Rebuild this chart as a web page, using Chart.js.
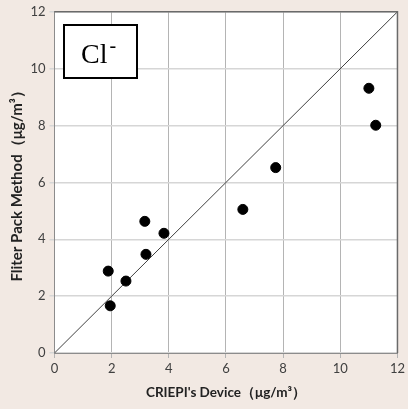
<!DOCTYPE html>
<html><head><meta charset="utf-8">
<script src="https://cdn.jsdelivr.net/npm/chart.js@4"></script>
<style>html,body{margin:0;padding:0;background:#f2e9e3;}#c{display:block;}</style>
</head><body>
<div style="width:408px;height:409px;"><canvas id="c" width="408" height="409"></canvas></div>
<script>
const criepiDevice = [11.0, 11.24, 7.74, 6.59, 3.16, 3.83, 3.20, 1.88, 2.50, 1.95];
const filterPack   = [9.31, 8.01, 6.52, 5.05, 4.63, 4.21, 3.47, 2.88, 2.53, 1.66];
const lineX = [0, 12];
const lineY = [0, 12];
const ionLabel = "Cl";
const ionCharge = "-";
const xTitle = "CRIEPI's Device（μg/m³）";
const yTitle = "Fliter Pack Method（μg/m³）";

const pts = criepiDevice.map((x,i)=>({x, y: filterPack[i]}));
const line = lineX.map((x,i)=>({x, y: lineY[i]}));

const deco = {
  id:'deco',
  beforeDraw(chart){
    const {ctx, chartArea:a} = chart;
    ctx.save();
    ctx.fillStyle = '#f2e9e3';
    ctx.fillRect(0,0,chart.width,chart.height);
    ctx.fillStyle = '#ffffff';
    ctx.fillRect(a.left,a.top,a.right-a.left,a.bottom-a.top);
    ctx.restore();
  },
  afterDraw(chart){
    const {ctx, chartArea:a} = chart;
    ctx.save();
    ctx.strokeStyle = '#6a6a6a';
    ctx.lineWidth = 1.5;
    ctx.beginPath();
    ctx.moveTo(a.left, a.top); ctx.lineTo(a.right, a.top); ctx.lineTo(a.right, a.bottom);
    ctx.stroke();
    ctx.fillStyle = '#ffffff';
    ctx.fillRect(63.5, 24.5, 74, 54);
    ctx.strokeStyle = '#000';
    ctx.lineWidth = 2;
    ctx.strokeRect(64, 25, 73, 53);
    ctx.fillStyle = '#000';
    ctx.font = '28px "Liberation Serif", "DejaVu Serif", serif';
    ctx.textBaseline = 'alphabetic';
    ctx.fillText(ionLabel, 81, 63);
    const w = ctx.measureText(ionLabel).width;
    ctx.font = '20px "Liberation Serif", serif';
    ctx.fillText(ionCharge, 81 + w + 2, 52);
    ctx.restore();
  }
};

const fam = 'Lato, "Open Sans", sans-serif';
new Chart(document.getElementById('c'), {
  type: 'scatter',
  data: { datasets: [
    { data: pts, pointRadius: 5, pointHoverRadius: 5, backgroundColor: '#000', borderColor: '#000', order: 0 },
    { type: 'line', data: line, borderColor: '#404040', borderWidth: 1, pointRadius: 0, fill: false, order: 1 }
  ]},
  options: {
    responsive: false, animation: false, devicePixelRatio: 1,
    layout: { padding: { top: 10, right: 10, left: 0, bottom: 0 } },
    plugins: { legend: { display: false }, tooltip: { enabled: false } },
    scales: {
      x: {
        type: 'linear', min: 0, max: 12,
        ticks: { stepSize: 2, color: '#404040', font: { family: fam, size: 13 }, padding: 3 },
        grid: { color: '#b4b4b4', lineWidth: 1, tickLength: 5, drawTicks: true },
        border: { color: '#8c8c8c', width: 1 },
        title: { display: true, text: xTitle, color: '#222', font: { family: fam, size: 13.5, weight: 'bold' }, padding: { top: 0, bottom: 8 } },
        afterFit(s){ s.height = 56; }
      },
      y: {
        type: 'linear', min: 0, max: 12,
        ticks: { stepSize: 2, color: '#404040', font: { family: fam, size: 13 }, padding: 4 },
        grid: { color: '#d6d6d6', lineWidth: 1.5, tickLength: 5, drawTicks: true },
        border: { color: '#8c8c8c', width: 1 },
        title: { display: true, text: yTitle, color: '#222', font: { family: fam, size: 15, weight: 'bold' }, padding: { top: 8, bottom: 0 } },
        afterFit(s){ s.width = 54.5; }
      }
    }
  },
  plugins: [deco]
});
</script>
</body></html>
